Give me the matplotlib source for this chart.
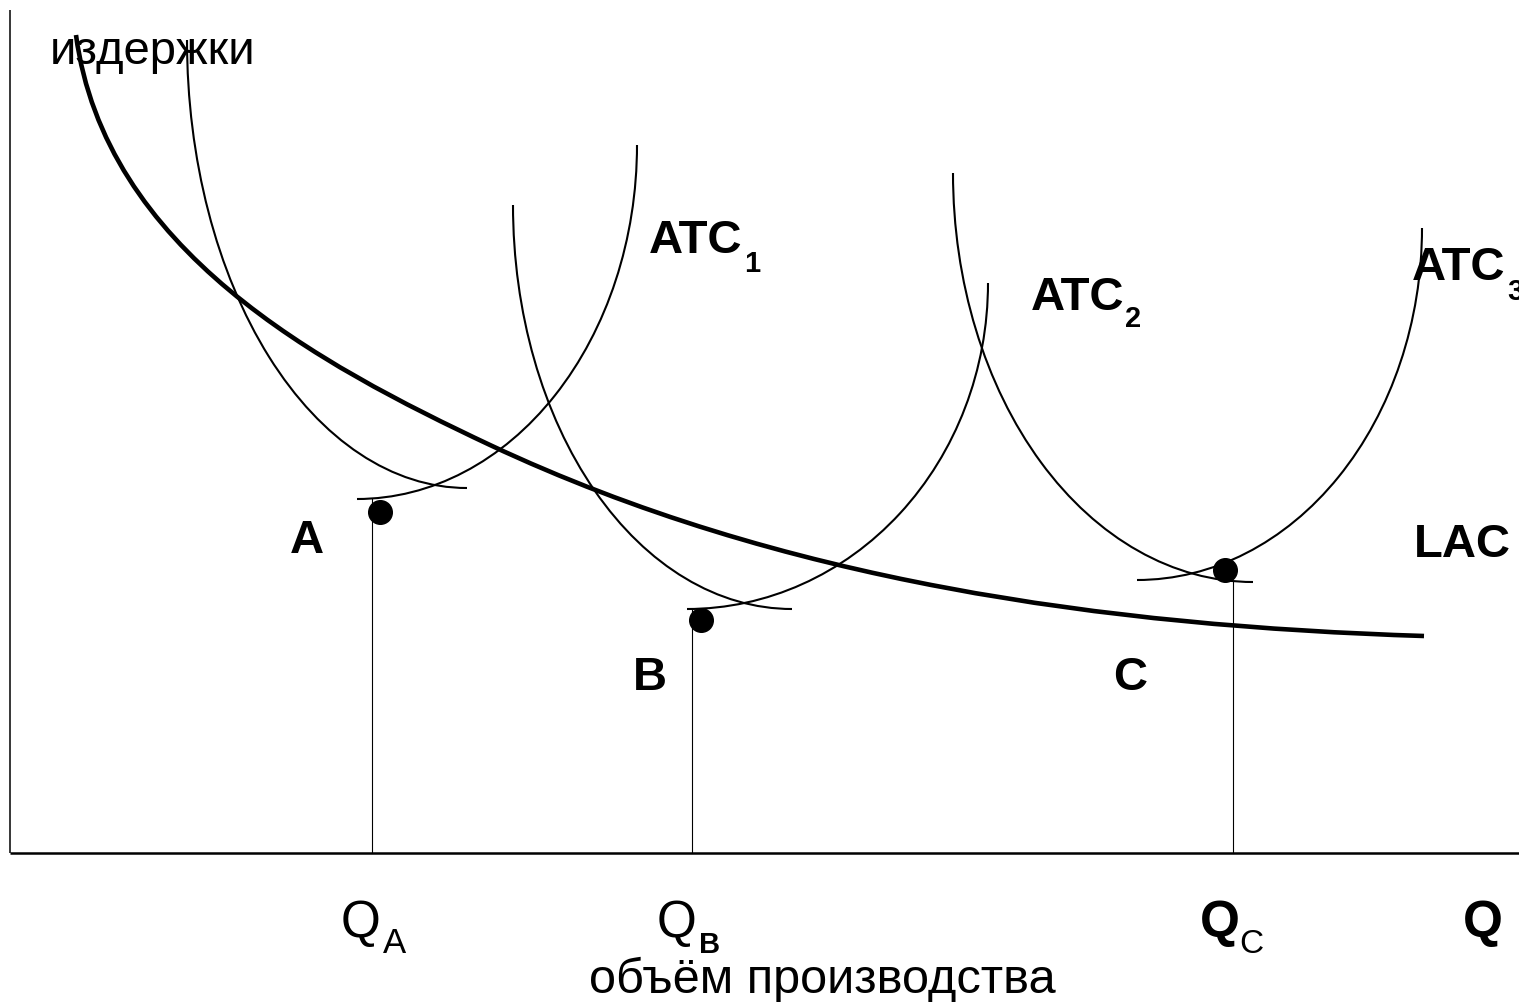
import matplotlib
matplotlib.use("Agg")
import matplotlib.pyplot as plt
from matplotlib.patches import Arc, PathPatch
from matplotlib.path import Path

plt.rcParams['font.family'] = ['Liberation Sans', 'DejaVu Sans']

# ---- data (chart units: Q to the right, cost upward, origin at axis corner) ----
curve_names = ["ATC1", "ATC2", "ATC3"]
# left (descending) arc of each ATC: top point and bottom point
left_top_q = [177, 503, 943]
left_top_c = [813, 648, 680]
left_bot_q = [457, 782, 1243]
left_bot_c = [365, 244, 271]
# right (rising) arc of each ATC: bottom point and top point
right_bot_q = [347, 677, 1127]
right_bot_c = [354, 244, 273]
right_top_q = [627, 978, 1412]
right_top_c = [708, 570, 625]

# LAC as cubic Bezier control points
lac_q = [66, 95, 308, 480, 770, 1094, 1414]
lac_c = [818, 603, 489, 408, 272, 227, 217]

# optimum points A, B, C
pt_labels = ["A", "B", "C"]
pt_q = [370, 691, 1215]
pt_c = [341, 233, 283]
# vertical drop lines
drop_q = [362, 682, 1223]
drop_top = [354, 244, 271]

axis_q_max = 1509
axis_c_max = 843

fig = plt.figure(figsize=(15.19, 10.02), dpi=100)
ax = fig.add_axes([0, 0, 1, 1])
ax.set_xlim(-10, 1509)
ax.set_ylim(-149, 853)
ax.axis('off')

# axes
ax.plot([0, 0], [0, axis_c_max], color='black', lw=1.1, solid_capstyle='butt')
ax.plot([0, axis_q_max], [0, 0], color='black', lw=1.8, solid_capstyle='butt')

# ATC arcs
for i in range(3):
    w = 2 * (left_bot_q[i] - left_top_q[i])
    h = 2 * (left_top_c[i] - left_bot_c[i])
    ax.add_patch(Arc((left_bot_q[i], left_top_c[i]), w, h, theta1=180, theta2=270,
                     color='black', lw=1.5))
    w = 2 * (right_top_q[i] - right_bot_q[i])
    h = 2 * (right_top_c[i] - right_bot_c[i])
    ax.add_patch(Arc((right_bot_q[i], right_top_c[i]), w, h, theta1=270, theta2=360,
                     color='black', lw=1.5))

# LAC
verts = list(zip(lac_q, lac_c))
codes = [Path.MOVETO] + [Path.CURVE4] * 6
ax.add_patch(PathPatch(Path(verts, codes), fill=False, lw=3.3, edgecolor='black',
                       capstyle='butt'))

# drop lines
for q, top in zip(drop_q, drop_top):
    ax.plot([q, q], [0, top], color='black', lw=0.8)

# dots
ax.plot(pt_q, pt_c, 'o', color='black', markersize=17, zorder=5)

bold = dict(fontweight='bold', color='black')
# ATC labels
ax.text(639, 600, "ATC", fontsize=34, va='baseline', ha='left', **bold)
ax.text(734, 581, "1", fontsize=21, va='baseline', ha='left', **bold)
ax.text(1021, 543, "ATC", fontsize=34, va='baseline', ha='left', **bold)
ax.text(1115, 526, "2", fontsize=21, va='baseline', ha='left', **bold)
ax.text(1402, 573, "ATC", fontsize=34, va='baseline', ha='left', **bold)
ax.text(1497, 553, "3", fontsize=21, va='baseline', ha='left', **bold)
ax.text(1404, 296, "LAC", fontsize=34, va='baseline', ha='left', **bold)

# point labels
ax.text(280, 300, pt_labels[0], fontsize=34, va='baseline', ha='left', **bold)
ax.text(623, 163, pt_labels[1], fontsize=34, va='baseline', ha='left', **bold)
ax.text(1103, 163, pt_labels[2], fontsize=34, va='baseline', ha='left', **bold)

# axis titles
ax.text(40, 789, "издержки", fontsize=34, va='baseline', ha='left', color='black')
ax.text(812, -140, "объём производства", fontsize=35, va='baseline', ha='center', color='black')

# Q labels
ax.text(331, -84, "Q", fontsize=37, va='baseline', ha='left', color='black')
ax.text(373, -100, "A", fontsize=25, va='baseline', ha='left', color='black')
ax.text(647, -84, "Q", fontsize=37, va='baseline', ha='left', color='black')
ax.text(689, -100, "B", fontsize=21, va='baseline', ha='left', **bold)
ax.text(1190, -84, "Q", fontsize=37, va='baseline', ha='left', **bold)
ax.text(1229, -100, "C", fontsize=24, va='baseline', ha='left', color='black')
ax.text(1453, -84, "Q", fontsize=37, va='baseline', ha='left', **bold)

fig.savefig("out.png", dpi=100)
